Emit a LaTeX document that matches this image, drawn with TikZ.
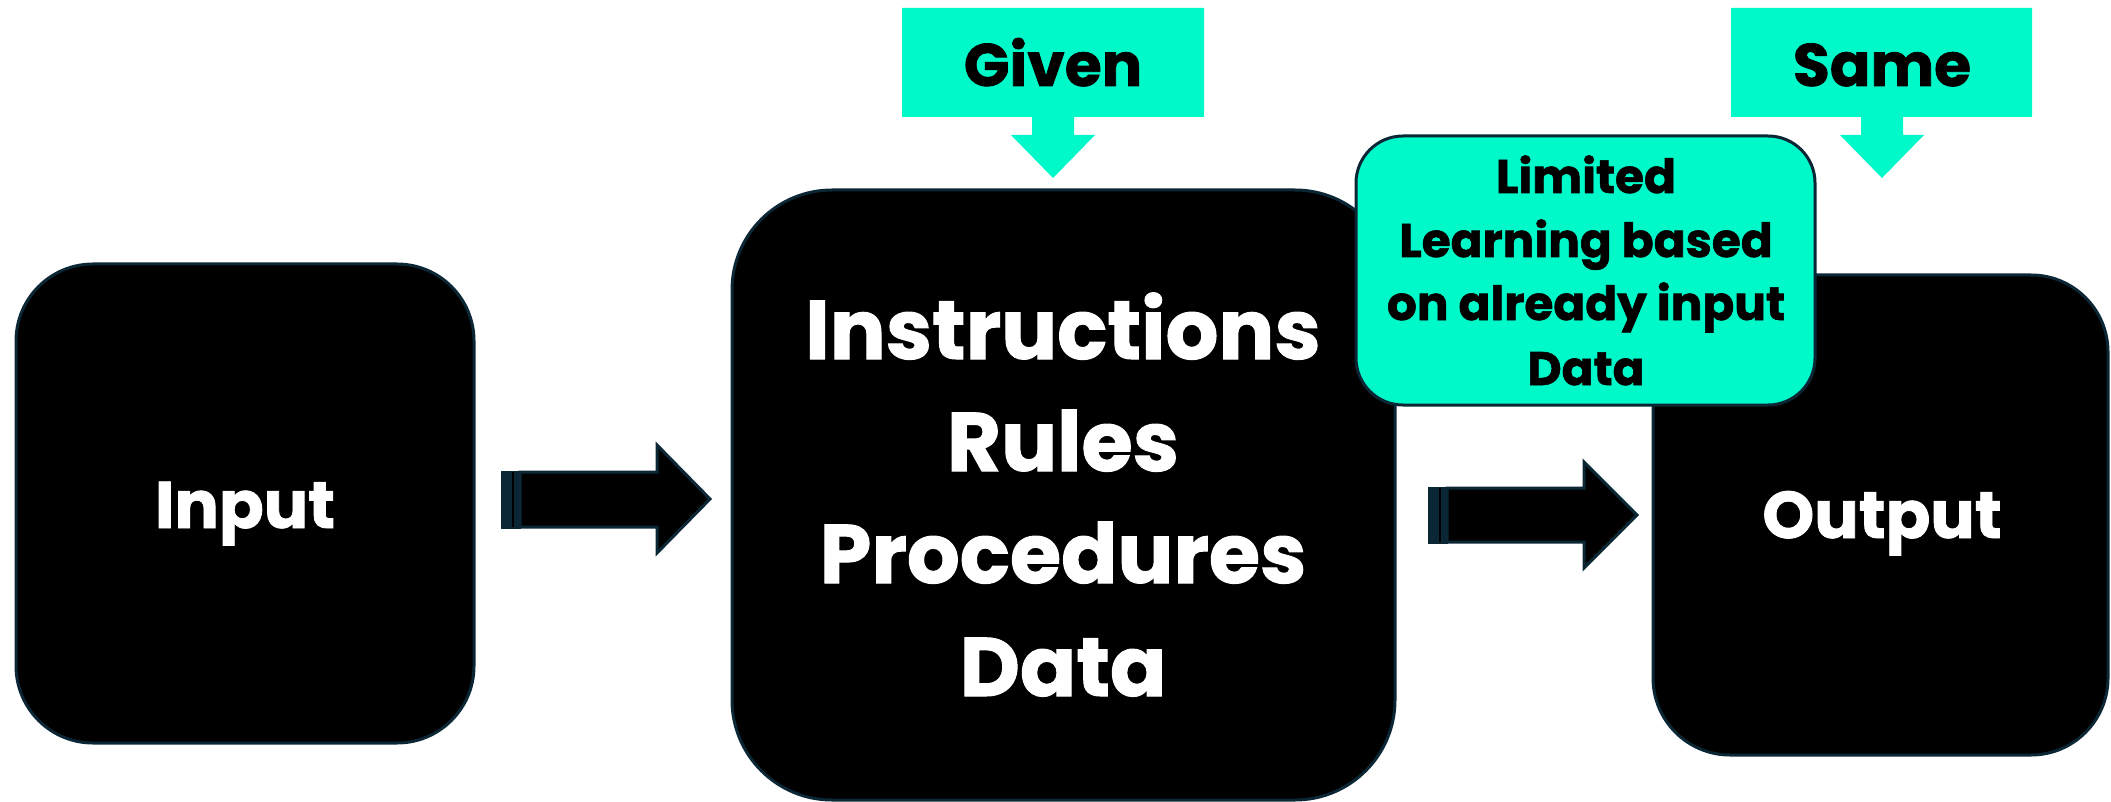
\documentclass[tikz,border=0pt]{standalone}
\usepackage{fontspec}
\setmainfont{Poppins}[BoldFeatures={FakeBold=1.2}]
\definecolor{navy}{HTML}{0B2736}
\definecolor{aqua}{HTML}{00F9C9}
\begin{document}
\begin{tikzpicture}[x=1pt,y=-1pt,
  bigbox/.style={draw=navy, line width=3pt, fill=black, inner sep=0pt},
  callbox/.style={draw=navy, line width=3pt, fill=aqua, inner sep=0pt, rounded corners=47pt},
  blockarrow/.style={draw=navy, line width=3pt, fill=black, line join=miter},
  stripe/.style={fill=navy, draw=navy, line width=1pt},
  callout/.style={fill=aqua, draw=none},
  wtxt/.style={text=white, anchor=base, inner sep=0pt, font=\bfseries},
  btxt/.style={text=black, anchor=base, inner sep=0pt, font=\bfseries}]
\useasboundingbox (0,0) rectangle (2111,802);

% main boxes
\node[bigbox, minimum width=458pt, minimum height=479pt, rounded corners=77pt] (inbox) at (245,503.5) {};
\node[bigbox, minimum width=663pt, minimum height=610pt, rounded corners=100pt] (midbox) at (1063.5,495) {};
\node[bigbox, minimum width=455pt, minimum height=480pt, rounded corners=77pt] (outbox) at (1880.5,515) {};

% block arrow 1
\draw[stripe] (501,471) rectangle (520,528);
\draw[black, line width=1.2pt] (513,472) -- (513,527);
\draw[blockarrow] (520,472) -- (657,472) -- (657,445) -- (710,499) -- (657,553) -- (657,527) -- (520,527) -- cycle;
% block arrow 2
\draw[stripe] (1428,487) rectangle (1447,543);
\draw[black, line width=1.2pt] (1440,488) -- (1440,542);
\draw[blockarrow] (1447,488) -- (1584,488) -- (1584,462) -- (1637,515) -- (1584,568) -- (1584,542) -- (1447,542) -- cycle;

% limited learning box
\node[callbox, minimum width=459pt, minimum height=269pt] (limbox) at (1585.5,270.5) {};

% callouts
\draw[callout] (902,8) -- (1204,8) -- (1204,117) -- (1074,117) -- (1074,135) -- (1095,135) -- (1053,178) -- (1011,135) -- (1032,135) -- (1032,117) -- (902,117) -- cycle;
\draw[callout] (1731,8) -- (2032,8) -- (2032,117) -- (1903,117) -- (1903,135) -- (1924,135) -- (1882,178) -- (1840,135) -- (1861,135) -- (1861,117) -- (1731,117) -- cycle;

% texts
\node[wtxt, font=\fontsize{66}{80}\selectfont\bfseries] (tin) at (245,528) {Input};
\node[wtxt, font=\fontsize{66}{80}\selectfont\bfseries] (tout) at (1882,538) {Output};
\node[wtxt, font=\fontsize{83}{110}\selectfont\bfseries] (m1) at (1063,359) {Instructions};
\node[wtxt, font=\fontsize{83}{110}\selectfont\bfseries] (m2) at (1063,471) {Rules};
\node[wtxt, font=\fontsize{83}{110}\selectfont\bfseries] (m3) at (1063,583) {Procedures};
\node[wtxt, font=\fontsize{83}{110}\selectfont\bfseries] (m4) at (1063,696) {Data};
\node[btxt, font=\fontsize{60}{70}\selectfont\bfseries] (tgiven) at (1053,86) {Given};
\node[btxt, font=\fontsize{60}{70}\selectfont\bfseries] (tsame) at (1882,86) {Same};
\node[btxt, font=\fontsize{47}{60}\selectfont\bfseries] (l1) at (1586,193) {Limited};
\node[btxt, font=\fontsize{47}{60}\selectfont\bfseries] (l2) at (1586,257) {Learning based};
\node[btxt, font=\fontsize{47}{60}\selectfont\bfseries] (l3) at (1586,320) {on already input};
\node[btxt, font=\fontsize{47}{60}\selectfont\bfseries] (l4) at (1586,385) {Data};
\end{tikzpicture}
\end{document}
